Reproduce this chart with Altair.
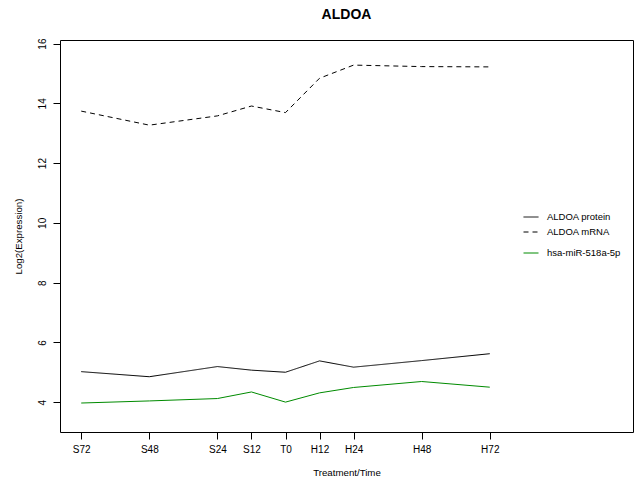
import altair as alt
import pandas as pd

# Time points (hours relative to treatment) and their axis labels
hours = [-72, -48, -24, -12, 0, 12, 24, 48, 72]
time_labels = ["S72", "S48", "S24", "S12", "T0", "H12", "H24", "H48", "H72"]

# Log2 expression per series
protein = [5.02, 4.85, 5.19, 5.07, 5.00, 5.38, 5.17, 5.39, 5.62]
mrna = [13.74, 13.27, 13.58, 13.91, 13.69, 14.84, 15.28, 15.23, 15.22]
mirna = [3.97, 4.04, 4.12, 4.34, 4.00, 4.31, 4.49, 4.69, 4.50]

gene_series = ["ALDOA protein", "ALDOA mRNA"]
gene_colors = ["black", "black"]
gene_dashes = [[1, 0], [5, 4]]
mir_series = ["hsa-miR-518a-5p"]
mir_colors = ["#008B00"]

gene_rows = []
for name, values in zip(gene_series, [protein, mrna]):
    for h, v in zip(hours, values):
        gene_rows.append({"hour": h, "value": v, "series": name})
gene_df = pd.DataFrame(gene_rows)

mir_df = pd.DataFrame({"hour": hours, "value": mirna, "series": mir_series[0]})

label_expr = "[{}][indexof([{}], datum.value)]".format(
    ",".join("'%s'" % t for t in time_labels), ",".join(str(h) for h in hours)
)

FONT = "Liberation Sans"


def line_legend(legend_y):
    return alt.Legend(
        title=None,
        orient="none",
        legendX=463,
        legendY=legend_y,
        padding=0,
        symbolType="stroke",
        symbolSize=225,
        symbolStrokeWidth=1,
        labelFont=FONT,
        labelFontSize=9.5,
        labelColor="black",
        labelOffset=8,
        rowPadding=2,
        labelLimit=200,
    )


x_enc = alt.X(
    "hour:Q",
    scale=alt.Scale(domain=[-79.48, 122.48], nice=False, zero=False),
    axis=alt.Axis(
        values=hours,
        labelExpr=label_expr,
        title="Treatment/Time",
        labelPadding=5,
        titlePadding=13,
    ),
)
y_enc = alt.Y(
    "value:Q",
    scale=alt.Scale(domain=[3.0, 16.12], nice=False, zero=False),
    axis=alt.Axis(
        values=[4, 6, 8, 10, 12, 14, 16],
        title="Log2(Expression)",
        labelAngle=270,
        labelAlign="center",
        labelBaseline="bottom",
        labelPadding=6,
        titlePadding=14,
    ),
)

gene_lines = (
    alt.Chart(gene_df)
    .mark_line(strokeWidth=1)
    .encode(
        x=x_enc,
        y=y_enc,
        color=alt.Color(
            "series:N",
            scale=alt.Scale(domain=gene_series, range=gene_colors),
            legend=line_legend(169),
        ),
        strokeDash=alt.StrokeDash(
            "series:N",
            scale=alt.Scale(domain=gene_series, range=gene_dashes),
            legend=line_legend(169),
        ),
        order="hour:Q",
    )
)

mir_line = (
    alt.Chart(mir_df)
    .mark_line(strokeWidth=1)
    .encode(
        x=x_enc,
        y=y_enc,
        stroke=alt.Stroke(
            "series:N",
            scale=alt.Scale(domain=mir_series, range=mir_colors),
            legend=line_legend(205),
        ),
        order="hour:Q",
    )
)

chart = (
    alt.layer(gene_lines, mir_line)
    .properties(
        width=573,
        height=392,
        title=alt.TitleParams(
            "ALDOA",
            font=FONT,
            fontSize=14,
            fontWeight="bold",
            color="black",
            anchor="middle",
            offset=16,
        ),
        autosize=alt.AutoSizeParams(type="none"),
        padding={"left": 60, "top": 40, "right": 6, "bottom": 48},
    )
    .configure(background="white")
    .configure_view(stroke="black", strokeWidth=1)
    .configure_axis(
        domain=False,
        grid=False,
        tickColor="black",
        tickSize=7,
        tickWidth=1,
        labelFont=FONT,
        labelFontSize=10,
        labelColor="black",
        titleFont=FONT,
        titleFontSize=9.7,
        titleFontWeight="normal",
        titleColor="black",
    )
)

chart.save("out.html", embed_options={"renderer": "svg", "actions": False})
